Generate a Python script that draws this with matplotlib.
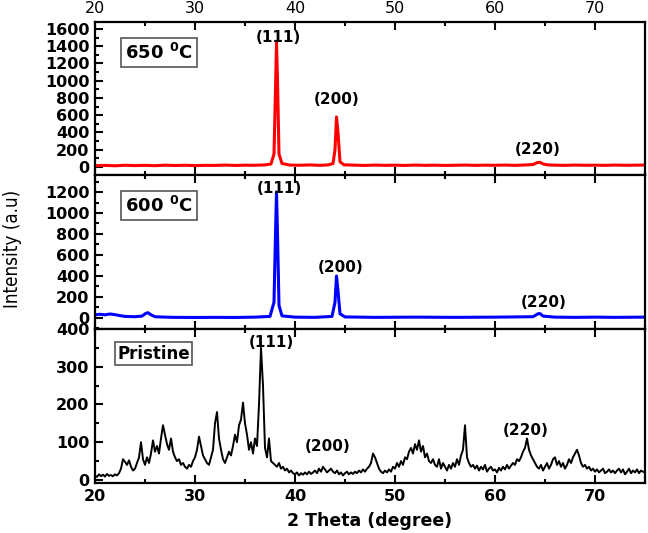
import numpy as np
import matplotlib
matplotlib.use("Agg")
from matplotlib import pyplot as plt
from matplotlib.ticker import MultipleLocator

# 650 C sample (red)
t650 = [20, 21, 22, 23, 24, 25, 26, 27, 28, 29, 30, 31, 32, 33, 34, 35, 36, 37, 37.6,
        37.9, 38.05, 38.15, 38.25, 38.4, 38.7, 39.5, 40.5, 41.5, 42.5, 43.3, 43.8, 44.0,
        44.15, 44.3, 44.5, 44.9, 46, 47, 48, 49, 50, 51, 52, 53, 54, 55, 56, 57, 58, 59,
        60, 61, 62, 63, 63.8, 64.2, 64.5, 64.8, 65.3, 66, 67, 68, 69, 70, 71, 72, 73, 74, 75]
i650 = [15, 18, 14, 20, 16, 19, 15, 21, 17, 20, 16, 19, 18, 22, 18, 21, 20, 24, 35,
        150, 900, 1440, 1000, 150, 40, 22, 20, 24, 19, 24, 40, 200,
        580, 400, 60, 25, 21, 18, 22, 19, 21, 18, 22, 19, 21, 18, 20, 22, 19, 21,
        20, 22, 19, 23, 28, 50, 55, 35, 24, 21, 19, 22, 20, 21, 19, 22, 20, 21, 22]

# 600 C sample (blue)
t600 = [20, 20.5, 21, 21.5, 22, 22.5, 23, 24, 24.7, 25.1, 25.3, 25.6, 26, 27, 28, 30,
        32, 34, 36, 37.5, 37.9, 38.05, 38.15, 38.25, 38.4, 38.7, 40, 42, 43.7, 44.0,
        44.15, 44.3, 44.5, 45, 48, 52, 56, 60, 63.8, 64.3, 64.5, 64.8, 66, 68, 70, 72, 75]
i600 = [30, 35, 30, 38, 32, 22, 15, 12, 18, 45, 50, 30, 12, 8, 6, 5,
        6, 5, 8, 15, 150, 800, 1200, 800, 120, 20, 8, 6, 15, 150,
        400, 260, 40, 10, 6, 8, 6, 8, 12, 40, 42, 18, 8, 6, 8, 6, 8]

# pristine sample (black), 0.2 deg steps from 20 to 75
pristine = [
    12, 8, 15, 10, 14, 9, 16, 11, 13, 10,
    15, 12, 18, 30, 55, 48, 40, 52, 35, 25,
    30, 45, 60, 100, 55, 40, 60, 45, 70, 105,
    75, 90, 70, 110, 145, 120, 95, 80, 110, 75,
    60, 50, 55, 40, 45, 35, 30, 40, 35, 50,
    60, 80, 115, 90, 65, 55, 45, 40, 60, 80,
    150, 180, 110, 80, 55, 45, 60, 75, 65, 90,
    120, 100, 145, 160, 205, 150, 120, 80, 100, 70,
    110, 90, 200, 350, 250, 85, 60, 110, 50, 45,
    40, 35, 45, 30, 35, 25, 30, 20, 25, 18,
    15, 20, 12, 18, 14, 20, 15, 22, 16, 20,
    25, 18, 30, 22, 35, 28, 20, 25, 30, 22,
    18, 25, 15, 20, 12, 18, 22, 15, 20, 16,
    22, 18, 25, 20, 28, 22, 30, 35, 45, 70,
    60, 45, 30, 22, 18, 25, 20, 28, 22, 35,
    30, 45, 35, 50, 40, 60, 55, 75, 85, 70,
    95, 80, 105, 75, 90, 60, 70, 50, 45, 55,
    40, 35, 55, 30, 45, 35, 25, 40, 30, 45,
    35, 55, 40, 65, 80, 145, 60, 45, 35, 40,
    30, 38, 25, 35, 28, 40, 22, 30, 35, 25,
    28, 20, 32, 25, 35, 28, 40, 30, 38, 45,
    40, 55, 50, 60, 75, 85, 110, 80, 65, 55,
    45, 35, 30, 40, 25, 35, 45, 30, 40, 55,
    60, 40, 50, 35, 45, 30, 40, 55, 45, 60,
    70, 80, 65, 45, 35, 40, 30, 35, 25, 30,
    22, 28, 20, 25, 30, 18, 22, 28, 20, 25,
    18, 25, 30, 20, 28, 15, 22, 30, 18, 25,
    20, 28, 18, 25, 22, 20,
]
t_pristine = np.linspace(20, 75, len(pristine))

labels = ["(111)", "(200)", "(220)"]

bold = {"family": "DejaVu Sans", "weight": "bold"}

fig = plt.figure(figsize=(6.48, 5.33), dpi=100)
left, width = 95 / 648, 550 / 648
ax1 = fig.add_axes([left, 1 - 175 / 533, width, 153 / 533])
ax2 = fig.add_axes([left, 1 - 329 / 533, width, 154 / 533])
ax3 = fig.add_axes([left, 1 - 483 / 533, width, 154 / 533])

ax1.plot(t650, i650, color="#ff0000", lw=2.2)
ax2.plot(t600, i600, color="#0000ff", lw=2.2)
ax3.plot(t_pristine, pristine, color="black", lw=1.4)

ax1.set_ylim(-93, 1681)
ax2.set_ylim(-105, 1362)
ax3.set_ylim(-8, 400)
ax1.yaxis.set_major_locator(MultipleLocator(200))
ax1.yaxis.set_minor_locator(MultipleLocator(100))
ax2.yaxis.set_major_locator(MultipleLocator(200))
ax2.yaxis.set_minor_locator(MultipleLocator(100))
ax3.yaxis.set_major_locator(MultipleLocator(100))
ax3.yaxis.set_minor_locator(MultipleLocator(50))

for ax in (ax1, ax2, ax3):
    ax.set_xlim(20, 75)
    ax.xaxis.set_major_locator(MultipleLocator(10))
    ax.xaxis.set_minor_locator(MultipleLocator(5))
    ax.tick_params(which="both", direction="in", top=True, right=False, width=1.5)
    ax.tick_params(which="major", length=6)
    ax.tick_params(which="minor", length=3)
    ax.tick_params(labelsize=11.5, pad=4)
    for s in ax.spines.values():
        s.set_linewidth(1.6)
    for lab in ax.get_xticklabels() + ax.get_yticklabels():
        lab.set_fontweight("bold")
        lab.set_family("DejaVu Sans")

ax1.tick_params(labeltop=True, labelbottom=False)
ax2.tick_params(labelbottom=False)

# peak labels
ax1.text(38.3, 1496, labels[0], ha="center", va="center", fontsize=11, **bold)
ax1.text(44.2, 777, labels[1], ha="center", va="center", fontsize=11, **bold)
ax1.text(64.3, 197, labels[2], ha="center", va="center", fontsize=11, **bold)
ax2.text(38.4, 1238, labels[0], ha="center", va="center", fontsize=11, **bold)
ax2.text(44.6, 485, labels[1], ha="center", va="center", fontsize=11, **bold)
ax2.text(64.9, 143, labels[2], ha="center", va="center", fontsize=11, **bold)
ax3.text(37.6, 363, labels[0], ha="center", va="center", fontsize=11, **bold)
ax3.text(43.3, 89, labels[1], ha="center", va="center", fontsize=11, **bold)
ax3.text(63.1, 131, labels[2], ha="center", va="center", fontsize=11, **bold)

box = dict(boxstyle="square,pad=0.25", fc="white", ec="#555555", lw=1.2)
ax1.text(0.055, 0.8, "650 $\\mathbf{^{0}}$C", transform=ax1.transAxes, fontsize=13,
         va="center", bbox=box, **bold)
ax2.text(0.055, 0.8, "600 $\\mathbf{^{0}}$C", transform=ax2.transAxes, fontsize=13,
         va="center", bbox=box, **bold)
ax3.text(0.04, 0.84, "Pristine", transform=ax3.transAxes, fontsize=12,
         va="center", bbox=dict(boxstyle="square,pad=0.15", fc="white", ec="#555555", lw=1.2),
         **bold)

ax3.set_xlabel("2 Theta (degree)", fontsize=12.5, labelpad=6, **bold)
fig.text(13 / 648, 1 - 249 / 533, "Intensity (a.u)", rotation=90, ha="center", va="center",
         fontsize=13.5, fontstretch="condensed",
         family=["Liberation Sans Narrow", "DejaVu Sans"])

fig.savefig("out.png", dpi=100)
